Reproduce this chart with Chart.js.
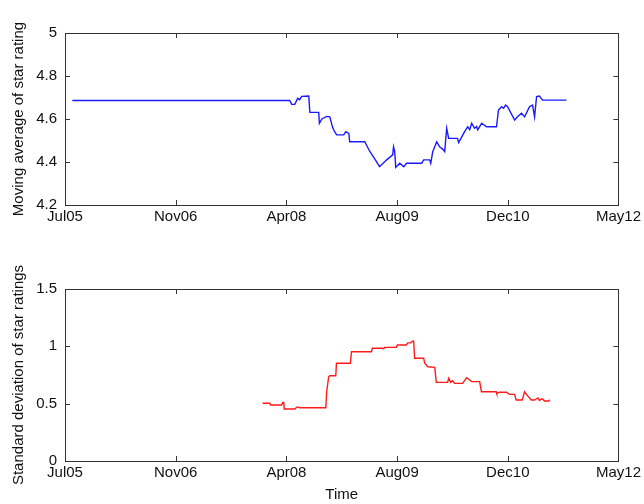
<!DOCTYPE html>
<html>
<head>
<meta charset="utf-8">
<script src="https://cdn.jsdelivr.net/npm/chart.js@4/dist/chart.umd.min.js"></script>
<style>
  html, body { margin: 0; padding: 0; background: #fff; }
  #wrap { position: relative; width: 644px; height: 504px; }
  canvas { position: absolute; left: 0; }
  #c1 { top: 0; }
  #c2 { top: 245px; }
</style>
</head>
<body>
<div id="wrap">
  <canvas id="c1" width="644" height="245"></canvas>
  <canvas id="c2" width="644" height="259"></canvas>
</div>
<script>
// Time axis: days counted from 7 Jul 2005, labelled every 500 days
const xTickLabels = ["Jul05", "Nov06", "Apr08", "Aug09", "Dec10", "May12"];

// Moving average of the star rating
const avgDays = [33, 1015, 1024, 1038, 1051, 1060, 1069, 1101, 1106, 1146, 1149, 1160, 1182, 1196,
  1209, 1218, 1227, 1259, 1268, 1282, 1286, 1354, 1376, 1399, 1421, 1453, 1480, 1484, 1489, 1494,
  1512, 1530, 1543, 1611, 1620, 1647, 1652, 1661, 1679, 1692, 1706, 1715, 1724, 1733, 1773, 1778,
  1805, 1819, 1828, 1837, 1850, 1859, 1864, 1882, 1904, 1949, 1958, 1972, 1981, 1990, 1999, 2031,
  2044, 2062, 2076, 2098, 2112, 2121, 2130, 2143, 2157, 2265];
const avgRating = [4.686, 4.686, 4.668, 4.668, 4.696, 4.690, 4.705, 4.707, 4.631, 4.631, 4.580, 4.600,
  4.612, 4.610, 4.560, 4.541, 4.526, 4.526, 4.541, 4.533, 4.494, 4.494, 4.450, 4.415, 4.378, 4.410,
  4.433, 4.471, 4.450, 4.375, 4.394, 4.378, 4.394, 4.394, 4.410, 4.410, 4.394, 4.448, 4.494, 4.471,
  4.460, 4.448, 4.557, 4.510, 4.510, 4.490, 4.541, 4.564, 4.550, 4.580, 4.557, 4.565, 4.550, 4.580,
  4.564, 4.564, 4.642, 4.657, 4.650, 4.665, 4.657, 4.595, 4.610, 4.627, 4.610, 4.657, 4.665, 4.610,
  4.704, 4.707, 4.688, 4.688];

// Standard deviation of the star ratings
const sdDays = [892, 925, 929, 978, 984, 988, 990, 1038, 1047, 1056, 1060, 1178, 1182, 1191, 1196,
  1223, 1226, 1289, 1294, 1384, 1388, 1435, 1439, 1444, 1497, 1501, 1542, 1548, 1561, 1572, 1575,
  1579, 1620, 1625, 1638, 1670, 1677, 1728, 1733, 1742, 1751, 1760, 1796, 1814, 1837, 1873, 1881,
  1948, 1950, 1963, 1994, 2008, 2031, 2038, 2065, 2076, 2089, 2106, 2121, 2136, 2143, 2152, 2157,
  2166, 2185, 2189];
const sdRating = [0.503, 0.503, 0.488, 0.488, 0.510, 0.510, 0.453, 0.453, 0.470, 0.470, 0.465, 0.465,
  0.604, 0.735, 0.744, 0.744, 0.852, 0.852, 0.953, 0.953, 0.983, 0.983, 0.978, 0.991, 0.991, 1.012,
  1.012, 1.030, 1.030, 1.047, 1.040, 0.896, 0.896, 0.852, 0.822, 0.817, 0.686, 0.686, 0.721, 0.686,
  0.700, 0.677, 0.677, 0.727, 0.692, 0.692, 0.604, 0.604, 0.590, 0.600, 0.600, 0.581, 0.581, 0.532,
  0.532, 0.604, 0.570, 0.532, 0.532, 0.550, 0.527, 0.541, 0.541, 0.523, 0.523, 0.535];

const FONT = { family: "'Liberation Sans', Arial, sans-serif", size: 15 };
const INK = '#111';

// Box around the plot area with inward tick marks on all four sides
const frameTicks = {
  id: 'frameTicks',
  afterDraw(chart) {
    const { ctx, chartArea: a } = chart;
    const L = 5;
    ctx.save();
    ctx.strokeStyle = '#333';
    ctx.lineWidth = 1;
    ctx.beginPath();
    const xs = chart.scales.x, ys = chart.scales.y;
    xs.ticks.forEach(t => {
      const px = Math.round(xs.getPixelForValue(t.value)) + 0.5;
      ctx.moveTo(px, a.bottom); ctx.lineTo(px, a.bottom - L);
      ctx.moveTo(px, a.top); ctx.lineTo(px, a.top + L);
    });
    ys.ticks.forEach(t => {
      const py = Math.round(ys.getPixelForValue(t.value)) + 0.5;
      ctx.moveTo(a.left, py); ctx.lineTo(a.left + L, py);
      ctx.moveTo(a.right, py); ctx.lineTo(a.right - L, py);
    });
    ctx.stroke();
    ctx.strokeRect(Math.round(a.left) + 0.5, Math.round(a.top) + 0.5,
      Math.round(a.right - a.left), Math.round(a.bottom - a.top));
    ctx.restore();
  }
};

function makeChart(id, days, vals, color, yMin, yMax, yStep, yTitle, xTitle, pad, xHeight) {
  const points = days.map((d, i) => ({ x: d, y: vals[i] }));
  return new Chart(document.getElementById(id), {
    type: 'line',
    data: { datasets: [{ data: points, borderColor: color, borderWidth: 1.4,
      pointRadius: 0, tension: 0, fill: false }] },
    options: {
      responsive: false,
      animation: false,
      events: [],
      layout: { padding: pad },
      plugins: { legend: { display: false }, tooltip: { enabled: false } },
      scales: {
        x: {
          type: 'linear', min: 0, max: 2500,
          grid: { display: false, drawTicks: false },
          border: { display: false },
          afterFit(s) { s.height = xHeight; },
          afterBuildTicks(s) {
            s.ticks = xTickLabels.map((_, i) => ({ value: i * 500 }));
          },
          ticks: {
            font: FONT, color: INK, padding: 3, maxRotation: 0, autoSkip: false,
            callback: (v) => xTickLabels[Math.round(v / 500)]
          },
          title: xTitle ? { display: true, text: xTitle, font: FONT, color: INK,
            padding: { top: 0, bottom: 0 } } : { display: false }
        },
        y: {
          min: yMin, max: yMax,
          grid: { display: false, drawTicks: false },
          border: { display: false },
          afterFit(s) { s.width = 65; },
          ticks: { stepSize: yStep, font: FONT, color: INK, padding: 8,
            callback: (v) => String(+Number(v).toFixed(2)) },
          title: { display: true, text: yTitle, font: FONT, color: INK,
            padding: { top: 10, bottom: 0 } }
        }
      }
    },
    plugins: [frameTicks]
  });
}

makeChart('c1', avgDays, avgRating, '#1a1aff', 4.2, 5, 0.2,
  'Moving average of star rating', null,
  { left: 0, right: 25, top: 33, bottom: 0 }, 40);
makeChart('c2', sdDays, sdRating, '#ff1a1a', 0, 1.5, 0.5,
  'Standard deviation of star ratings', 'Time',
  { left: 0, right: 25, top: 44, bottom: 0 }, 43);
</script>
</body>
</html>
